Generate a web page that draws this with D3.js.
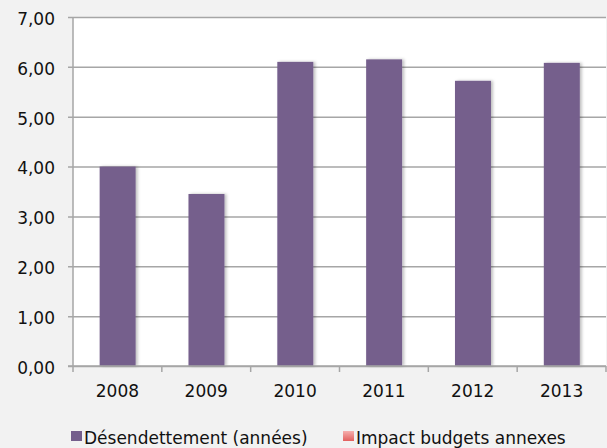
<!DOCTYPE html>
<html>
<head>
<meta charset="utf-8">
<script src="https://cdn.jsdelivr.net/npm/d3@7"></script>
<style>
  body { margin: 0; background: #f2f2f2; }
  text { font-family: "DejaVu Sans", sans-serif; fill: #111; }
</style>
</head>
<body>
<svg id="figure"></svg>
<script>
// data
const years = ["2008", "2009", "2010", "2011", "2012", "2013"];
const desendettement = [4.00, 3.45, 6.10, 6.15, 5.72, 6.08];
const yTicks = [0, 1, 2, 3, 4, 5, 6, 7];
const legendNames = ["Désendettement (années)", "Impact budgets annexes"];

const W = 607, H = 448;
const margin = {top: 17, right: 1, bottom: 82, left: 73};
const width = W - margin.left - margin.right;
const height = H - margin.top - margin.bottom;

const svg = d3.select("#figure").attr("width", W).attr("height", H);

const defs = svg.append("defs");
const grad = defs.append("linearGradient").attr("id", "pink")
    .attr("x1", 0).attr("y1", 0).attr("x2", 0).attr("y2", 1);
grad.append("stop").attr("offset", "0%").attr("stop-color", "#f6b0ae");
grad.append("stop").attr("offset", "100%").attr("stop-color", "#e2605e");

const shadow = defs.append("filter").attr("id", "shadow")
    .attr("x", "-20%").attr("y", "-5%").attr("width", "150%").attr("height", "110%");
shadow.append("feDropShadow").attr("dx", 2).attr("dy", 0).attr("stdDeviation", 1.5)
    .attr("flood-color", "#000").attr("flood-opacity", 0.25);

const g = svg.append("g").attr("transform", `translate(${margin.left},${margin.top})`);

const x = d3.scaleBand().domain(years).range([0, width]);
const y = d3.scaleLinear().domain([0, 7]).range([height, 0]);

// plot area
g.append("rect").attr("width", width).attr("height", height).attr("fill", "#fff");

// gridlines + y axis
const yAxis = g.append("g")
    .call(d3.axisLeft(y).tickValues(yTicks).tickSize(-width).tickPadding(18)
        .tickFormat(d => d3.format(".2f")(d).replace(".", ",")));
yAxis.select(".domain").remove();
yAxis.selectAll(".tick line").attr("stroke", "#a6a6a6").attr("stroke-width", 1.5)
    .attr("x1", -5);
yAxis.selectAll(".tick text").attr("font-size", 17).attr("dy", "0.43em")
    .attr("font-family", "DejaVu Sans").attr("fill", "#111");

g.append("line").attr("x1", 0).attr("x2", 0).attr("y1", 0).attr("y2", height)
    .attr("stroke", "#a6a6a6").attr("stroke-width", 1.5);

// bars
g.selectAll("rect.bar").data(desendettement).enter().append("rect")
    .attr("class", "bar")
    .attr("x", (d, i) => x(years[i]) + x.bandwidth() * 0.3)
    .attr("width", x.bandwidth() * 0.405)
    .attr("y", d => y(d))
    .attr("height", d => height - y(d))
    .attr("fill", "#745e8c")
    .attr("filter", "url(#shadow)");

// x axis with ticks at category boundaries
const xAxis = g.append("g").attr("transform", `translate(0,${height})`);
xAxis.append("line").attr("x1", -5).attr("x2", width).attr("stroke", "#a6a6a6").attr("stroke-width", 1.5);
const bounds = years.map(d => x(d)).concat([width]);
xAxis.selectAll("line.tk").data(bounds).enter().append("line").attr("class", "tk")
    .attr("x1", d => d).attr("x2", d => d).attr("y1", 0).attr("y2", 6)
    .attr("stroke", "#a6a6a6").attr("stroke-width", 1.5);
xAxis.selectAll("text").data(years).enter().append("text")
    .attr("x", d => x(d) + x.bandwidth() / 2)
    .attr("y", 31)
    .attr("text-anchor", "middle")
    .attr("font-size", 17)
    .text(d => d);

// legend
const legendX = [71, 343];
const legendFill = ["#745e8c", "url(#pink)"];
const legend = svg.append("g");
legendNames.forEach((name, i) => {
  legend.append("rect").attr("x", legendX[i]).attr("y", 431)
      .attr("width", 11).attr("height", 10).attr("fill", legendFill[i]);
  legend.append("text").attr("x", legendX[i] + 13).attr("y", 444)
      .attr("font-size", 17).text(name);
});
</script>
</body>
</html>
